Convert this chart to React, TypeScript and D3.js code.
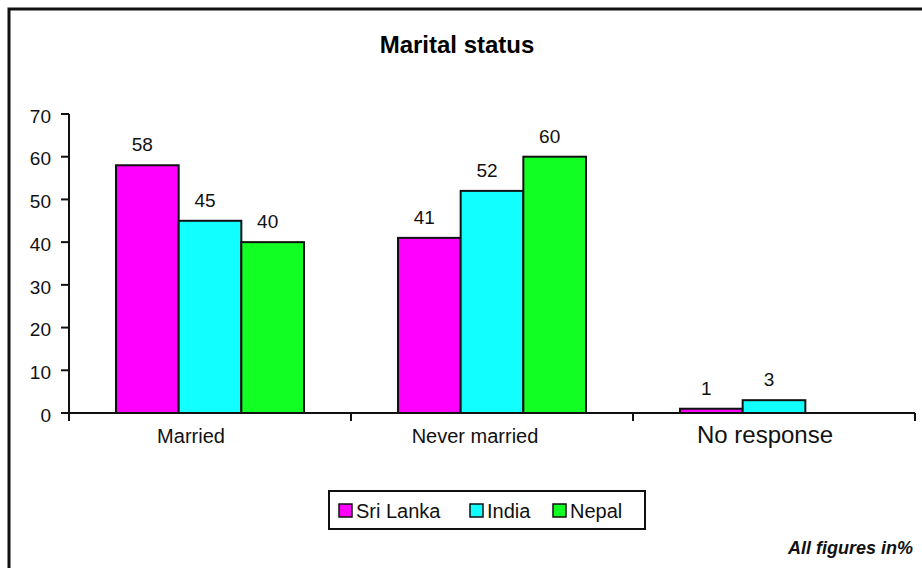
import * as d3 from "d3";

const categories = ["Married", "Never married", "No response"];
const seriesNames = ["Sri Lanka", "India", "Nepal"];
const sriLanka = [58, 41, 1];
const india = [45, 52, 3];
const nepal = [40, 60, 0];
const yTicks = [0, 10, 20, 30, 40, 50, 60, 70];
const colors = ["#ff00ff", "#11ffff", "#11ff22"];

const W = 922;
const H = 568;
const margin = { left: 69, right: 7, top: 114, bottom: 155 };
const font = "'Liberation Sans', Arial, sans-serif";

export default function App() {
    const values = [sriLanka, india, nepal];
    const x0 = d3
        .scaleBand<string>()
        .domain(categories)
        .range([margin.left, W - margin.right]);
    const x1 = d3
        .scaleBand<string>()
        .domain(seriesNames)
        .range([0, x0.bandwidth()])
        .paddingOuter(0.75);
    const y = d3
        .scaleLinear()
        .domain([0, 70])
        .range([H - margin.bottom, margin.top]);

    const legendX = 329;
    const legendItems = [339, 470, 553];
    // category labels sit a bit left of the band centre in the original
    const labelShift = [-19, -17, -9];

    return (
        <svg
            width={W}
            height={H}
            style={{ position: "absolute", left: 0, top: 0, background: "#fff" }}
            fontFamily={font}
        >
            {/* Frame */}
            <rect x={0} y={0} width={W} height={H} fill="#fff" />
            <path d={`M9 ${H} V9 H${W}`} fill="none" stroke="#111" strokeWidth={3} />

            <text x={457} y={53} textAnchor="middle" fontSize={24} fontWeight="bold" fill="#000">
                Marital status
            </text>

            {/* Bars */}
            {categories.map((c, ci) => (
                <g key={c}>
                    {seriesNames.map((s, si) => {
                        const v = values[si][ci];
                        if (!v) return null;
                        const bx = (x0(c) ?? 0) + (x1(s) ?? 0);
                        return (
                            <g key={s}>
                                <rect
                                    x={bx}
                                    y={y(v)}
                                    width={x1.bandwidth()}
                                    height={y(0) - y(v)}
                                    fill={colors[si]}
                                    stroke="#111"
                                    strokeWidth={2}
                                />
                                <text
                                    x={bx + x1.bandwidth() / 2 - 5}
                                    y={y(v) - 14}
                                    textAnchor="middle"
                                    fontSize={19}
                                    fill="#111"
                                >
                                    {v}
                                </text>
                            </g>
                        );
                    })}
                </g>
            ))}

            {/* Y axis */}
            <line x1={margin.left} x2={margin.left} y1={y(70)} y2={y(0) + 8} stroke="#111" strokeWidth={2} />
            {yTicks.map((t) => (
                <g key={t}>
                    <line x1={margin.left - 8} x2={margin.left} y1={y(t)} y2={y(t)} stroke="#111" strokeWidth={2} />
                    <text x={51} y={y(t) + 2} dy="0.35em" textAnchor="end" fontSize={19} fill="#111">
                        {t}
                    </text>
                </g>
            ))}

            {/* X axis */}
            <line x1={margin.left} x2={W - margin.right} y1={y(0)} y2={y(0)} stroke="#111" strokeWidth={2} />
            {categories.map((c) => (
                <line
                    key={c}
                    x1={(x0(c) ?? 0) + x0.bandwidth()}
                    x2={(x0(c) ?? 0) + x0.bandwidth()}
                    y1={y(0)}
                    y2={y(0) + 8}
                    stroke="#111"
                    strokeWidth={2}
                />
            ))}
            {categories.map((c, i) => (
                <text
                    key={c}
                    x={(x0(c) ?? 0) + x0.bandwidth() / 2 + labelShift[i]}
                    y={443}
                    textAnchor="middle"
                    fontSize={i === 2 ? 24 : 20}
                    fill="#111"
                >
                    {c}
                </text>
            ))}

            {/* Legend */}
            <rect x={legendX} y={491} width={316} height={38} fill="#fff" stroke="#111" strokeWidth={2} />
            {seriesNames.map((s, i) => (
                <g key={s}>
                    <rect
                        x={legendItems[i]}
                        y={504}
                        width={13}
                        height={13}
                        fill={colors[i]}
                        stroke="#111"
                        strokeWidth={1.5}
                    />
                    <text x={legendItems[i] + 17} y={518} fontSize={20} fill="#111">
                        {s}
                    </text>
                </g>
            ))}

            <text
                x={913}
                y={554}
                textAnchor="end"
                fontSize={18}
                fontWeight="bold"
                fontStyle="italic"
                fill="#111"
            >
                All figures in%
            </text>
        </svg>
    );
}
